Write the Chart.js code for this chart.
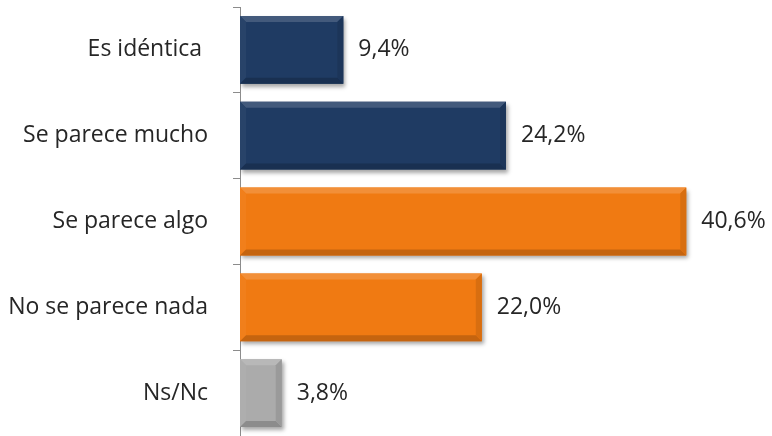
<!DOCTYPE html>
<html>
<head>
<meta charset="utf-8">
<script src="https://cdn.jsdelivr.net/npm/chart.js@4.4.1/dist/chart.umd.min.js"></script>
<style>
  html, body { margin: 0; padding: 0; background: #ffffff; }
  #wrap { width: 772px; height: 436px; position: relative; }
</style>
</head>
<body>
<div id="wrap"><canvas id="c"></canvas></div>
<script>
const categories = ['Es idéntica ', 'Se parece mucho', 'Se parece algo', 'No se parece nada', 'Ns/Nc'];
const values = [9.4, 24.2, 40.6, 22.0, 3.8];
const valueLabels = ['9,4%', '24,2%', '40,6%', '22,0%', '3,8%'];
const barColors = ['#1F3B63', '#1F3B63', '#F07A12', '#F07A12', '#ABABAB'];

function shade(hex, amt) {
  const n = parseInt(hex.slice(1), 16);
  let r = (n >> 16) & 255, g = (n >> 8) & 255, b = n & 255;
  const f = c => Math.max(0, Math.min(255, Math.round(amt >= 0 ? c + (255 - c) * amt : c * (1 + amt))));
  return 'rgb(' + f(r) + ',' + f(g) + ',' + f(b) + ')';
}

const shadowPlugin = {
  id: 'shadow',
  beforeDatasetDraw(chart) {
    const ctx = chart.ctx;
    ctx.save();
    ctx.shadowColor = 'rgba(0,0,0,0.35)';
    ctx.shadowOffsetX = 2;
    ctx.shadowOffsetY = 3;
    ctx.shadowBlur = 4;
  },
  afterDatasetDraw(chart) {
    chart.ctx.restore();
  }
};

const bevelPlugin = {
  id: 'bevel',
  afterDatasetsDraw(chart) {
    const ctx = chart.ctx;
    const meta = chart.getDatasetMeta(0);
    meta.data.forEach((bar, i) => {
      const p = bar.getProps(['x', 'y', 'base', 'height'], true);
      const l = Math.min(p.base, p.x), r = Math.max(p.base, p.x);
      const t = p.y - p.height / 2, b = p.y + p.height / 2;
      const d = Math.min(6, (r - l) / 2);
      const c = barColors[i];
      ctx.save();
      ctx.fillStyle = shade(c, 0.16);
      ctx.beginPath(); ctx.moveTo(l, t); ctx.lineTo(r, t); ctx.lineTo(r - d, t + d); ctx.lineTo(l + d, t + d); ctx.closePath(); ctx.fill();
      ctx.fillStyle = shade(c, 0.04);
      ctx.beginPath(); ctx.moveTo(l, t); ctx.lineTo(l + d, t + d); ctx.lineTo(l + d, b - d); ctx.lineTo(l, b); ctx.closePath(); ctx.fill();
      ctx.fillStyle = shade(c, -0.18);
      ctx.beginPath(); ctx.moveTo(l, b); ctx.lineTo(l + d, b - d); ctx.lineTo(r - d, b - d); ctx.lineTo(r, b); ctx.closePath(); ctx.fill();
      ctx.fillStyle = shade(c, -0.1);
      ctx.beginPath(); ctx.moveTo(r, t); ctx.lineTo(r, b); ctx.lineTo(r - d, b - d); ctx.lineTo(r - d, t + d); ctx.closePath(); ctx.fill();
      ctx.restore();
    });
  }
};

const valueLabelPlugin = {
  id: 'valueLabels',
  afterDatasetsDraw(chart) {
    const ctx = chart.ctx;
    const meta = chart.getDatasetMeta(0);
    ctx.save();
    ctx.font = '23px "Open Sans", sans-serif';
    ctx.fillStyle = '#262626';
    ctx.textAlign = 'left';
    ctx.textBaseline = 'middle';
    meta.data.forEach((bar, i) => {
      ctx.fillText(valueLabels[i], bar.x + 15, bar.y);
    });
    ctx.restore();
  }
};

new Chart(document.getElementById('c'), {
  type: 'bar',
  data: {
    labels: categories,
    datasets: [{
      data: values,
      backgroundColor: barColors,
      borderWidth: 0,
      barPercentage: 0.79,
      categoryPercentage: 1.0
    }]
  },
  options: {
    indexAxis: 'y',
    responsive: true,
    maintainAspectRatio: false,
    animation: false,
    layout: { padding: { top: 7, right: 0, bottom: 0, left: 0 } },
    plugins: { legend: { display: false }, tooltip: { enabled: false } },
    scales: {
      x: { display: false, min: 0, max: 48.4 },
      y: {
        afterFit(scale) { scale.width = 240; scale.paddingTop = 0; scale.paddingBottom = 0; },
        border: { display: true, color: '#8C8C8C', width: 1 },
        grid: { display: true, offset: true, drawOnChartArea: false, drawTicks: true, tickLength: 7, color: '#8C8C8C' },
        ticks: { color: '#262626', font: { family: '"Open Sans", sans-serif', size: 23 }, padding: 25 }
      }
    }
  },
  plugins: [shadowPlugin, bevelPlugin, valueLabelPlugin]
});
</script>
</body>
</html>
